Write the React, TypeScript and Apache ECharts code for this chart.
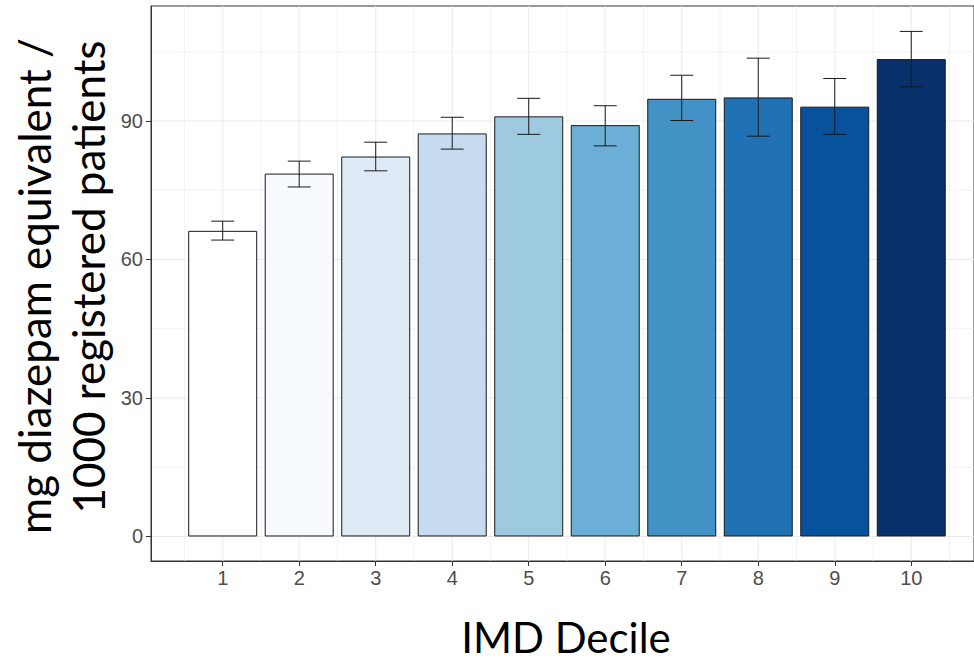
import React, { useEffect, useRef } from "react";
import * as echarts from "echarts";

const deciles = [1, 2, 3, 4, 5, 6, 7, 8, 9, 10];
const means = [66.2, 78.6, 82.3, 87.3, 91.0, 89.1, 94.8, 95.1, 93.1, 103.4];
const lower = [64.2, 75.7, 79.2, 83.9, 87.1, 84.6, 90.1, 86.7, 87.1, 97.4];
const upper = [68.3, 81.3, 85.4, 90.8, 94.9, 93.3, 99.9, 103.6, 99.2, 109.4];
const barColors = [
  "#FFFFFF", "#F7FBFF", "#DEEBF7", "#C6DBEF", "#9ECAE1",
  "#6BAED6", "#4292C6", "#2171B5", "#08519C", "#08306B",
];
const yTicks = [0, 30, 60, 90];
const yMinor = [15, 45, 75, 105];
const xMinor = [0.5, 1.5, 2.5, 3.5, 4.5, 5.5, 6.5, 7.5, 8.5, 9.5, 10.5];

const X_MIN = 0.0627;
const X_MAX = 10.82;
const Y_MIN = -5.31;
const Y_MAX = 114.9;

type GridDef = { dir: "h" | "v"; v: number; major: boolean };
const gridDefs: GridDef[] = [
  ...yMinor.map((v) => ({ dir: "h" as const, v, major: false })),
  ...xMinor.map((v) => ({ dir: "v" as const, v, major: false })),
  ...yTicks.map((v) => ({ dir: "h" as const, v, major: true })),
  ...deciles.map((v) => ({ dir: "v" as const, v, major: true })),
];

export default function App() {
  const ref = useRef<HTMLDivElement>(null);
  useEffect(() => {
    const chart = echarts.init(ref.current!, null, { renderer: "svg" });
    const labelFont = "'Liberation Sans', Arial, sans-serif";
    const titleFont = "Lato, 'Open Sans', sans-serif";
    const option: any = {
      animation: false,
      backgroundColor: "#FFFFFF",
      grid: {
        left: 151,
        top: 6,
        right: 0,
        bottom: 100,
        show: true,
        borderColor: "#333333",
        borderWidth: 1,
        backgroundColor: "transparent",
      },
      xAxis: {
        type: "value",
        min: X_MIN,
        max: X_MAX,
        splitLine: { show: false },
        axisLine: { show: true, onZero: false, lineStyle: { color: "#333333", width: 1 } },
        axisTick: { show: true, length: 5, customValues: deciles, lineStyle: { color: "#333333" } },
        axisLabel: {
          customValues: deciles,
          color: "#4D4D4D",
          fontSize: 20,
          fontFamily: labelFont,
          margin: 7,
          formatter: (v: number) => String(Math.round(v)),
        },
      },
      yAxis: {
        type: "value",
        min: Y_MIN,
        max: Y_MAX,
        splitLine: { show: false },
        axisLine: { show: true, onZero: false, lineStyle: { color: "#333333", width: 1 } },
        axisTick: { show: true, length: 5, customValues: yTicks, lineStyle: { color: "#333333" } },
        axisLabel: {
          customValues: yTicks,
          color: "#4D4D4D",
          fontSize: 20,
          fontFamily: labelFont,
          margin: 8,
          formatter: (v: number) => String(Math.round(v)),
        },
      },
      series: [
        {
          type: "custom",
          z: 0,
          silent: true,
          data: gridDefs.map((_, i) => [i]),
          renderItem: (params: any, api: any) => {
            const g = gridDefs[params.dataIndex];
            let p1: number[], p2: number[];
            if (g.dir === "h") {
              p1 = api.coord([X_MIN, g.v]);
              p2 = api.coord([X_MAX, g.v]);
            } else {
              p1 = api.coord([g.v, Y_MIN]);
              p2 = api.coord([g.v, Y_MAX]);
            }
            return {
              type: "line",
              shape: { x1: p1[0], y1: p1[1], x2: p2[0], y2: p2[1] },
              style: { stroke: "#EBEBEB", lineWidth: g.major ? 1.1 : 0.6 },
            };
          },
        },
        {
          type: "bar",
          z: 2,
          barWidth: 69,
          itemStyle: { borderColor: "#1A1A1A", borderWidth: 1 },
          data: deciles.map((d, i) => ({
            value: [d, means[i]],
            itemStyle: { color: barColors[i] },
          })),
        },
        {
          type: "custom",
          z: 3,
          silent: true,
          encode: { x: 0, y: [1, 2] },
          data: deciles.map((d, i) => [d, lower[i], upper[i]]),
          renderItem: (params: any, api: any) => {
            const x = api.value(0);
            const lo = api.coord([x, api.value(1)]);
            const hi = api.coord([x, api.value(2)]);
            const half = api.coord([x + 0.15, api.value(1)])[0] - lo[0];
            const st = { stroke: "#1A1A1A", lineWidth: 1 };
            return {
              type: "group",
              children: [
                { type: "line", shape: { x1: lo[0], y1: lo[1], x2: hi[0], y2: hi[1] }, style: st },
                { type: "line", shape: { x1: lo[0] - half, y1: lo[1], x2: lo[0] + half, y2: lo[1] }, style: st },
                { type: "line", shape: { x1: hi[0] - half, y1: hi[1], x2: hi[0] + half, y2: hi[1] }, style: st },
              ],
            };
          },
        },
      ],
      graphic: [
        {
          type: "text",
          x: 566,
          y: 637,
          style: {
            text: "IMD Decile",
            fontSize: 42,
            fontFamily: titleFont,
            fill: "#000000",
            textAlign: "center",
            textVerticalAlign: "middle",
          },
        },
        {
          type: "text",
          x: 34,
          y: 286,
          rotation: Math.PI / 2,
          style: {
            text: "mg diazepam equivalent /",
            fontSize: 44,
            fontFamily: titleFont,
            fill: "#000000",
            textAlign: "center",
            textVerticalAlign: "middle",
          },
        },
        {
          type: "text",
          x: 88,
          y: 277,
          rotation: Math.PI / 2,
          style: {
            text: "1000 registered patients",
            fontSize: 44,
            fontFamily: titleFont,
            fill: "#000000",
            textAlign: "center",
            textVerticalAlign: "middle",
          },
        },
      ],
    };
    chart.setOption(option);
    return () => chart.dispose();
  }, []);
  return (
    <div
      ref={ref}
      style={{ position: "absolute", left: 0, top: 0, width: 974, height: 661 }}
    />
  );
}
